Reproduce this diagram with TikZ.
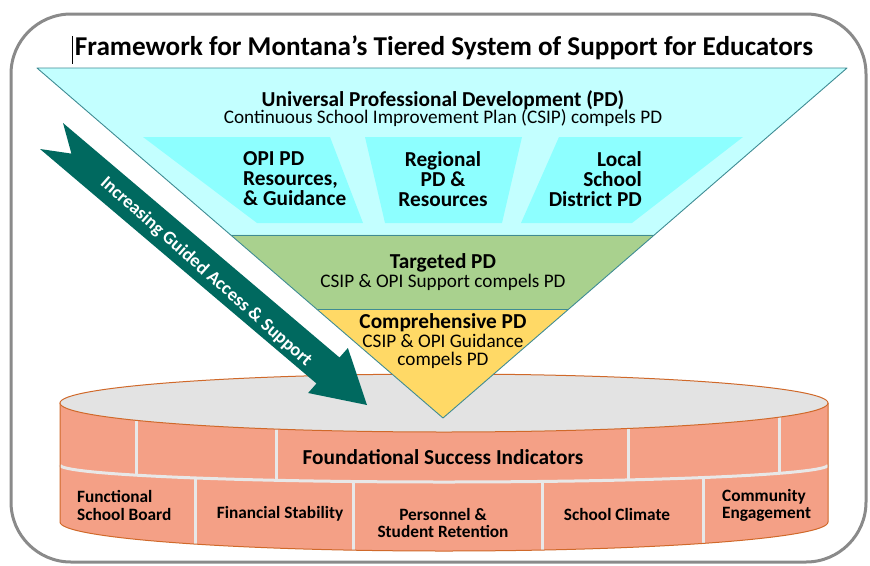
\documentclass[tikz,border=0pt]{standalone}
\usepackage{fontspec}
\setmainfont{Carlito}
\usepackage{tikz}
\usetikzlibrary{calc}
\definecolor{frame}{HTML}{8A8A8A}
\definecolor{edge}{HTML}{3F8C94}
\definecolor{univ}{HTML}{C3FFFF}
\definecolor{subbox}{HTML}{8DFFFF}
\definecolor{targ}{HTML}{A9D18E}
\definecolor{comp}{HTML}{FFD966}
\definecolor{guide}{HTML}{00695F}
\definecolor{disk}{HTML}{E3E3E3}
\definecolor{brick}{HTML}{F4A086}
\definecolor{rim}{HTML}{D0692A}
\definecolor{mortar}{HTML}{E8E8E8}
\tikzset{
  tier/.style={draw=edge, line width=0.9pt, line join=round},
  head/.style={inner sep=0pt, font=\bfseries\fontsize{21.3}{23}\selectfont},
  sub/.style={inner sep=0pt, font=\fontsize{19.2}{18}\selectfont},
  boxtxt/.style={inner sep=0pt, font=\bfseries\fontsize{21.3}{20}\selectfont},
  brk/.style={inner sep=0pt, font=\bfseries\fontsize{17.3}{17.5}\selectfont},
  joint/.style={draw=mortar, line width=3pt},
}

\begin{document}
\begin{tikzpicture}[x=1pt, y=-1pt]
  \useasboundingbox (0,0) rectangle (870,565);
  % outer frame
  \draw[frame, line width=3pt, rounded corners=60pt] (11,14) rectangle (866,562);
  \draw[black, line width=1pt] (72,36) -- (72,64);
  \node[inner sep=0pt, font=\bfseries\fontsize{27.2}{30}\selectfont] (title) at (444,48)
    {Framework for Montana’s Tiered System of Support for Educators};

  % foundation disk
  \coordinate (dl) at (60,403);
  \coordinate (dr) at (828,403);
  \fill[brick] (dl) -- (60,522) arc[start angle=180, end angle=360, x radius=384pt, y radius=29pt]
    -- (dr) arc[start angle=360, end angle=180, x radius=384pt, y radius=29pt] -- cycle;
  \draw[joint] (60,465) arc[start angle=180, end angle=360, x radius=384pt, y radius=17pt];
  \draw[joint] (136,420) -- (136,475);
  \draw[joint] (276,429) -- (276,480);
  \draw[joint] (628,428) -- (628,480);
  \draw[joint] (779,417) -- (779,473);
  \draw[joint] (195,478) -- (195,544);
  \draw[joint] (353,481) -- (353,550);
  \draw[joint] (542,481) -- (542,550);
  \draw[joint] (703,477) -- (703,543);
  \draw[rim, line width=1pt] (dl) -- (60,522) arc[start angle=180, end angle=360, x radius=384pt, y radius=29pt]
    -- (dr);
  \draw[rim, line width=1pt, fill=disk] (444,403) ellipse[x radius=384pt, y radius=29pt];

  % tiers of the funnel
  \coordinate (tl) at (37,68);
  \coordinate (tr) at (847,68);
  \coordinate (apex) at (443,418);
  \coordinate (ul) at ($(tl)!0.477!(apex)$);
  \coordinate (ur) at ($(tr)!0.477!(apex)$);
  \coordinate (gl) at ($(tl)!0.691!(apex)$);
  \coordinate (gr) at ($(tr)!0.691!(apex)$);
  \fill[univ] (tl) -- (tr) -- (ur) -- (ul) -- cycle;
  \fill[targ] (ul) -- (ur) -- (gr) -- (gl) -- cycle;
  \fill[comp] (gl) -- (gr) -- (apex) -- cycle;
  \fill[subbox] (143,137) -- (330,137) -- (363,223) -- (257,223) -- cycle;
  \fill[subbox] (365,137) -- (522,137) -- (502,223) -- (385,223) -- cycle;
  \fill[subbox] (559,137) -- (743,137) -- (632,223) -- (521,223) -- cycle;
  \draw[tier] (ul) -- (ur);
  \draw[tier] (gl) -- (gr);
  \draw[tier] (tl) -- (tr) -- (apex) -- cycle;

  \node[head] (univ) at (443,100) {Universal Professional Development (PD)};
  \node[sub] (csip) at (443,118) {Continuous School Improvement Plan (CSIP) compels PD};
  \node[boxtxt, anchor=west, align=left] (opi) at (243,179) {OPI PD\\Resources,\\\& Guidance};
  \node[boxtxt, align=center] (region) at (443,179) {Regional\\PD \&\\Resources};
  \node[boxtxt, anchor=east, align=right] (local) at (642,179) {Local\\School\\District PD};
  \node[head] (targ) at (443,263) {Targeted PD};
  \node[sub] (targsub) at (443,282) {CSIP \& OPI Support compels PD};
  \node[head] (comp) at (443,323) {Comprehensive PD};
  \node[sub, align=center] (compsub) at (443,351) {CSIP \& OPI Guidance\\compels PD};

  % guided access arrow
  \fill[guide] (63,123) -- (339.5,357.5) -- (347.9,348) -- (367,405) -- (308.1,393)
    -- (316.5,383.5) -- (40,149) -- (71.4,153.6) -- cycle;
  \node[inner sep=0pt, text=white, rotate=-41.5, font=\bfseries\fontsize{18.5}{20}\selectfont]
    (access) at (206,272) {Increasing Guided Access \& Support};

  % foundation labels
  \node[boxtxt] (found) at (443,457) {Foundational Success Indicators};
  \node[brk, anchor=west, align=left] (board) at (77,505.5) {Functional\\School Board};
  \node[brk] (money) at (280,514) {Financial Stability};
  \node[brk, align=center] (staff) at (443,523) {Personnel \&\\Student Retention};
  \node[brk] (climate) at (617,514) {School Climate};
  \node[brk, anchor=west, align=left] (comm) at (722,505.5) {Community\\Engagement};
\end{tikzpicture}
\end{document}
